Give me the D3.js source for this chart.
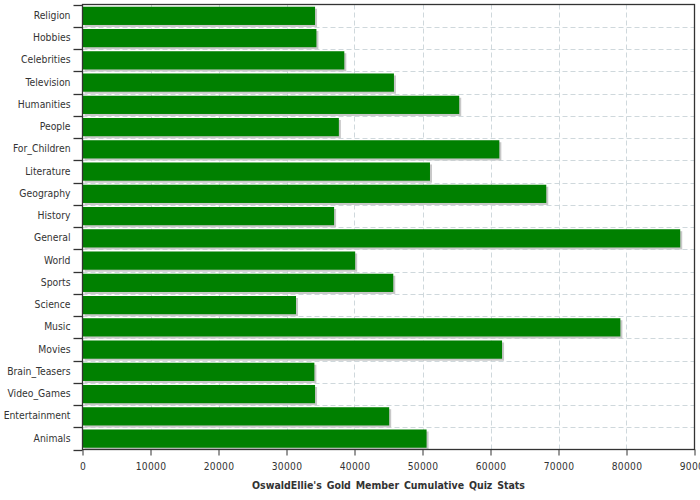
<!DOCTYPE html>
<html>
<head>
<meta charset="utf-8">
<script src="https://cdn.jsdelivr.net/npm/d3@7"></script>
<style>
  body { margin: 0; background: #fff; }
  svg { display: block; }
</style>
</head>
<body>
<svg id="chart" width="700" height="500"></svg>
<script>
const categories = ["Religion","Hobbies","Celebrities","Television","Humanities","People","For_Children","Literature","Geography","History","General","World","Sports","Science","Music","Movies","Brain_Teasers","Video_Games","Entertainment","Animals"];
const values = [34200,34400,38500,45800,55400,37700,61300,51100,68200,37000,87900,40100,45700,31400,79100,61700,34100,34200,45100,50600];
const xTicks = [0,10000,20000,30000,40000,50000,60000,70000,80000,90000];
const title = "OswaldEllie's Gold Member Cumulative Quiz Stats";

const svg = d3.select("#chart");
const margin = {left: 82.5, right: 5.5, top: 4.5, bottom: 50.5};
const W = 700, H = 500;
const x = d3.scaleLinear().domain([0, 90000]).range([margin.left, W - margin.right]);
const y = d3.scaleBand().domain(categories).range([margin.top, H - margin.bottom]);
const font = "'DejaVu Sans Condensed', 'DejaVu Sans', sans-serif";

// grid
const grid = svg.append("g").attr("stroke", "#cfd8dc").attr("stroke-width", 1).attr("stroke-dasharray", "5,3");
xTicks.slice(1, -1).forEach(t => {
  grid.append("line").attr("x1", Math.round(x(t)) + 0.5).attr("x2", Math.round(x(t)) + 0.5)
    .attr("y1", margin.top).attr("y2", H - margin.bottom);
});
categories.slice(1).forEach(c => {
  const yy = Math.round(y(c)) + 0.5;
  grid.append("line").attr("x1", margin.left).attr("x2", W - margin.right).attr("y1", yy).attr("y2", yy);
});

const bw = y.bandwidth();
// shadows
svg.append("g").selectAll("rect").data(categories).join("rect")
  .attr("x", x(0) + 2)
  .attr("y", (d) => y(d) + bw * 0.1 + 2)
  .attr("width", (d, i) => x(values[i]) - x(0))
  .attr("height", bw * 0.82)
  .attr("fill", "#c8c8c8");
// bars
svg.append("g").selectAll("rect").data(categories).join("rect")
  .attr("x", x(0))
  .attr("y", (d) => y(d) + bw * 0.1)
  .attr("width", (d, i) => x(values[i]) - x(0))
  .attr("height", bw * 0.82)
  .attr("fill", "#008000");

// frame
svg.append("rect").attr("x", margin.left).attr("y", margin.top)
  .attr("width", W - margin.right - margin.left).attr("height", H - margin.bottom - margin.top)
  .attr("fill", "none").attr("stroke", "#333").attr("stroke-width", 1.3);

// x axis
const xAxis = svg.append("g").attr("transform", `translate(0,${H - margin.bottom})`)
  .call(d3.axisBottom(x).tickValues(xTicks).tickFormat(d3.format("d")).tickSize(6).tickPadding(7));
xAxis.select(".domain").remove();
xAxis.selectAll("line").attr("stroke", "#333");
xAxis.selectAll("text").attr("fill", "#333").style("font-family", font).style("font-size", "10.2px").style("letter-spacing", "0.3px");

// y axis: ticks at band boundaries
const yg = svg.append("g");
const bounds = categories.map(c => y(c)).concat([y.range()[1]]);
yg.selectAll("line").data(bounds).join("line")
  .attr("x1", margin.left - 9).attr("x2", margin.left)
  .attr("y1", d => Math.round(d) + 0.5).attr("y2", d => Math.round(d) + 0.5)
  .attr("stroke", "#333").attr("stroke-width", 1.3);
yg.selectAll("text").data(categories).join("text")
  .attr("x", margin.left - 12)
  .attr("y", d => y(d) + bw * 0.48)
  .attr("dy", "0.35em")
  .attr("text-anchor", "end")
  .attr("fill", "#333")
  .style("font-family", font).style("font-size", "10.3px")
  .text(d => d);

// title
svg.append("text").attr("x", (margin.left + W - margin.right) / 2).attr("y", 489)
  .attr("text-anchor", "middle").attr("fill", "#333")
  .style("font-family", font).style("font-size", "10.5px").style("font-weight", "bold").style("word-spacing", "1.5px")
  .text(title);
</script>
</body>
</html>
